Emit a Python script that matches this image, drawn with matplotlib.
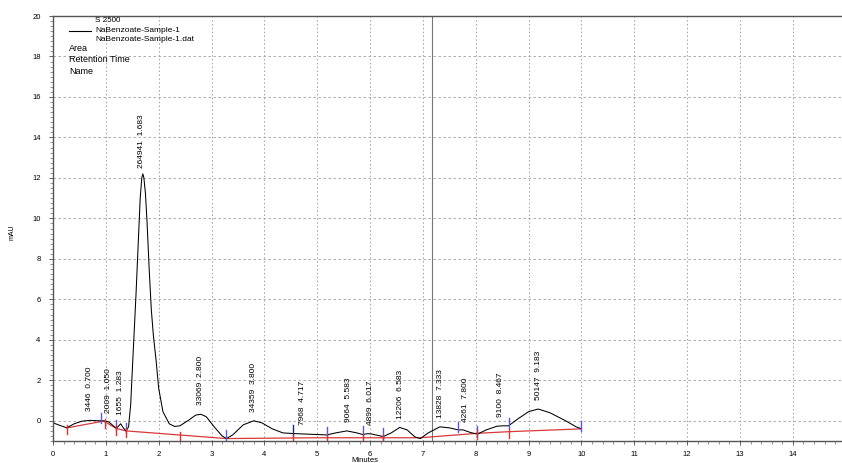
import numpy as np
import matplotlib
matplotlib.use("Agg")
import matplotlib.pyplot as plt
from matplotlib.ticker import MultipleLocator

plt.rcParams['font.family'] = ['Liberation Sans', 'DejaVu Sans']

# detector trace (minutes, mAU)
trace_t = [0.0, 0.1, 0.26, 0.4, 0.55, 0.7, 0.85, 0.95, 1.05, 1.12, 1.2, 1.28, 1.33,
           1.38, 1.43, 1.47, 1.51, 1.57, 1.62, 1.65, 1.68, 1.70, 1.72, 1.75, 1.78,
           1.82, 1.86, 1.90, 1.95, 2.0, 2.08, 2.2, 2.3, 2.4, 2.55, 2.7, 2.8, 2.9,
           3.05, 3.2, 3.28, 3.4, 3.6, 3.8, 3.95, 4.15, 4.35, 4.54, 4.8, 5.0, 5.18,
           5.35, 5.56, 5.75, 5.86, 5.95, 6.02, 6.25, 6.4, 6.56, 6.7, 6.85, 6.95, 7.1,
           7.32, 7.5, 7.67, 7.76, 7.9, 8.03, 8.2, 8.4, 8.51, 8.62, 8.8, 9.0, 9.18,
           9.4, 9.7, 9.9, 10.0]
trace_y = [-0.1, -0.2, -0.35, -0.15, -0.02, 0.02, 0.0, 0.0, -0.05, -0.2, -0.38, -0.15,
           -0.35, -0.5, -0.3, 0.8, 3.0, 6.2, 9.2, 11.0, 12.0, 12.2, 12.0, 11.2, 9.8,
           7.5, 5.5, 4.2, 3.0, 1.6, 0.45, -0.15, -0.28, -0.25, 0.0, 0.28, 0.32, 0.2,
           -0.3, -0.75, -0.88, -0.7, -0.2, 0.0, -0.1, -0.4, -0.6, -0.63, -0.66, -0.68,
           -0.7, -0.6, -0.5, -0.6, -0.68, -0.64, -0.65, -0.78, -0.6, -0.33, -0.45,
           -0.8, -0.88, -0.6, -0.3, -0.35, -0.45, -0.45, -0.58, -0.66, -0.45, -0.27,
           -0.25, -0.25, 0.1, 0.45, 0.58, 0.4, 0.0, -0.3, -0.4]

# integration baselines (red)
base1_t = [0.27, 0.95]
base1_y = [-0.35, -0.02]
base2_t = [0.98, 1.2, 1.38, 3.28, 5.0, 6.95, 8.03, 8.62, 10.0]
base2_y = [-0.05, -0.38, -0.5, -0.88, -0.84, -0.84, -0.62, -0.54, -0.4]

# peak boundary markers
blue_ticks = [0.91, 1.2, 1.38, 3.28, 4.54, 5.18, 5.86, 6.25, 7.67, 8.03, 8.62, 10.0]
red_ticks = [0.27, 0.98, 1.2, 1.38, 2.4, 4.54, 5.18, 5.86, 6.25, 8.03, 8.62]

# peak annotations: area, retention time
peak_area = ["3446", "2009", "1655", "264941", "33069", "34359", "7968", "9064",
             "4899", "12206", "13828", "4261", "9100", "50147"]
peak_rt = [0.700, 1.050, 1.283, 1.683, 2.800, 3.800, 4.717, 5.583, 6.017, 6.583,
           7.333, 7.800, 8.467, 9.183]

fig = plt.figure(figsize=(8.42, 4.63), dpi=100)
ax = fig.add_axes([53 / 842, 1 - 441 / 463, 1 - 53 / 842, (441 - 16) / 463])

ax.set_xlim(0, 14.93)
ax.set_ylim(-1, 20)

ax.xaxis.set_major_locator(MultipleLocator(1))
ax.xaxis.set_minor_locator(MultipleLocator(0.2))
ax.yaxis.set_major_locator(MultipleLocator(2))
ax.yaxis.set_minor_locator(MultipleLocator(0.25))
ax.tick_params(axis='both', which='major', labelsize=5.5, length=3, width=0.6,
               colors='#444444', labelcolor='black')
ax.tick_params(axis='both', which='minor', length=2, width=0.5, colors='#666666')
ax.tick_params(axis='x', pad=4)
ax.tick_params(axis='y', pad=6)

ax.grid(True, which='major', axis='y', color='#a0a0a0', linestyle=(0, (3, 3)), linewidth=0.6)
ax.grid(True, which='major', axis='x', color='#a0a0a0', linestyle=(0, (1.5, 2.5)), linewidth=0.7)

for side in ['left', 'bottom', 'top']:
    ax.spines[side].set_color('#555555')
    ax.spines[side].set_linewidth(1.0)
ax.spines['right'].set_visible(False)

ax.axvline(7.18, color='#777777', linewidth=0.8)

ax.plot(base1_t, base1_y, color='#d83a3a', linewidth=0.9)
ax.plot(base2_t, base2_y, color='#d83a3a', linewidth=0.9)
ax.plot(trace_t, trace_y, color='black', linewidth=0.75)

base_all_t = base1_t + base2_t
base_all_y = base1_y + base2_y
order = np.argsort(base_all_t)
bt = np.array(base_all_t)[order]
by = np.array(base_all_y)[order]

for t in blue_ticks:
    y = np.interp(t, trace_t, trace_y)
    c = '#1c2a80' if t == 4.54 else '#5a5ae0'
    ax.plot([t, t], [y - 0.1, y + 0.4], color=c, linewidth=1.0)
for t in red_ticks:
    y = np.interp(t, bt, by)
    ax.plot([t, t], [y - 0.3, y + 0.15], color='#e03030', linewidth=1.0)

for area, rt in zip(peak_area, peak_rt):
    y = np.interp(rt, trace_t, trace_y)
    ax.text(rt, y + 0.45, area + "  " + f"{rt:.3f}", rotation=90, ha='center',
            va='bottom', fontsize=6)

# legend block top-left
ax.text(0.8, 19.8, "S 2500", fontsize=5.8, va='center')
ax.plot([0.3, 0.72], [19.28, 19.28], color='black', linewidth=0.8)
ax.text(0.8, 19.28, "NaBenzoate-Sample-1", fontsize=6, va='center')
ax.text(0.8, 18.86, "NaBenzoate-Sample-1.dat", fontsize=6, va='center')
ax.text(0.3, 18.37, "Area", fontsize=6.5, va='center')
ax.text(0.3, 17.83, "Retention Time", fontsize=6.5, va='center')
ax.text(0.3, 17.28, "Name", fontsize=6.5, va='center')

fig.text(12 / 842, 1 - 232 / 463, "mAU", rotation=90, fontsize=5, ha='center', va='center')
fig.text(365 / 842, 1 - 461 / 463, "Minutes", fontsize=5.5, ha='center', va='center')

fig.savefig("out.png", dpi=100)
